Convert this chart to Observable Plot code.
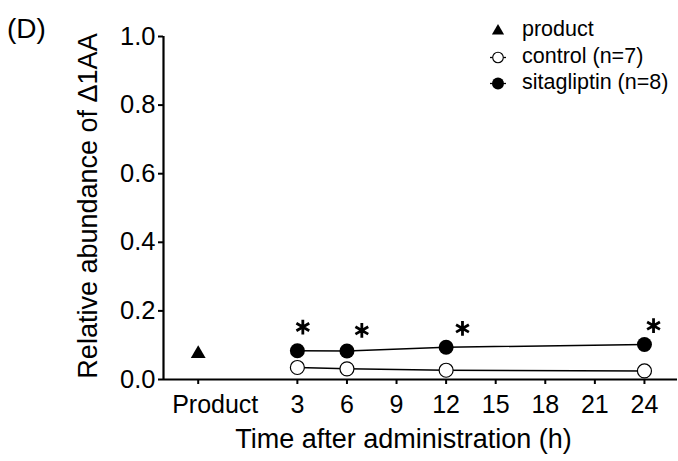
<!DOCTYPE html>
<html>
<head>
<meta charset="utf-8">
<script src="https://cdn.jsdelivr.net/npm/d3@7"></script>
<script src="https://cdn.jsdelivr.net/npm/@observablehq/plot@0.6"></script>
<style>
  html, body { margin: 0; padding: 0; background: #fff; }
  #wrap { position: relative; width: 678px; height: 461px; font-family: "Liberation Sans", Arial, sans-serif; color: #000; }
  #panel { position: absolute; left: 7px; top: 13px; font-size: 28px; line-height: 32px; }
  #legend { position: absolute; left: 486px; top: 16px; font-size: 21.5px; }
  .row { position: relative; height: 26.5px; line-height: 26.5px; white-space: nowrap; }
  .row svg { position: absolute; left: 0; top: 0; }
  .row span { position: absolute; left: 36px; top: 0; }
</style>
</head>
<body>
<div id="wrap">
  <div id="chart"></div>
  <div id="panel">(D)</div>
  <div id="legend"></div>
</div>
<script>
// ---- data ----
const times = [3, 6, 12, 24];
const controlValues = [0.035, 0.031, 0.027, 0.025];
const sitagliptinValues = [0.084, 0.083, 0.094, 0.102];
const productTimes = [-3];
const productValues = [0.075];
const starTimes = [3.33, 6.9, 12.99, 24.55];
const starValues = [0.153, 0.143, 0.149, 0.157];
const xTicks = [-3, 3, 6, 9, 12, 15, 18, 21, 24];
const xTickLabels = ["Product", "3", "6", "9", "12", "15", "18", "21", "24"];
const yTicks = [0, 0.2, 0.4, 0.6, 0.8, 1.0];
const seriesNames = ["product", "control (n=7)", "sitagliptin (n=8)"];
const xTitle = "Time after administration (h)";
const yTitle = "Relative abundance of Δ1AA";

const control = times.map((t, i) => ({t, v: controlValues[i]}));
const sitagliptin = times.map((t, i) => ({t, v: sitagliptinValues[i]}));
const product = productTimes.map((t, i) => ({t, v: productValues[i]}));
const stars = starTimes.map((t, i) => ({t, v: starValues[i]}));
const labelOf = d => xTickLabels[xTicks.indexOf(d)];

const chart = Plot.plot({
  width: 678,
  height: 461,
  marginLeft: 163,
  marginRight: 1,
  marginTop: 36,
  marginBottom: 82,
  style: {fontFamily: "Liberation Sans, Arial, sans-serif", fontSize: "25px", color: "#000", background: "transparent"},
  x: {domain: [-5.1, 26]},
  y: {domain: [0, 1]},
  marks: [
    // tick marks + numeric tick labels
    Plot.axisX({ticks: xTicks, tickFormat: d => (d === xTicks[0] ? "" : labelOf(d)), tickSize: 5, tickPadding: 11, strokeWidth: 2, label: null, fontSize: 25}),
    // the "Product" label sits right of its tick in the reference
    Plot.axisX({ticks: [xTicks[0]], tickFormat: labelOf, tickSize: 0, tickPadding: 16, dx: 17, label: null, fontSize: 25}),
    Plot.axisY({ticks: yTicks, tickFormat: d3.format(".1f"), tickSize: 5, tickPadding: 3, strokeWidth: 2, label: null, fontSize: 25.5}),
    Plot.ruleY([0], {stroke: "#000", strokeWidth: 2.2}),
    Plot.ruleX([-5.1], {stroke: "#000", strokeWidth: 2.2}),
    Plot.line(control, {x: "t", y: "v", stroke: "#000", strokeWidth: 1.5}),
    Plot.line(sitagliptin, {x: "t", y: "v", stroke: "#000", strokeWidth: 1.5}),
    Plot.dot(control, {x: "t", y: "v", r: 7, fill: "#fff", stroke: "#000", strokeWidth: 1.2}),
    Plot.dot(sitagliptin, {x: "t", y: "v", r: 7.5, fill: "#000"}),
    Plot.dot(product, {x: "t", y: "v", r: 5.5, symbol: "triangle", fill: "#000"}),
    Plot.dot(stars, {x: "t", y: "v", r: 7, symbol: "asterisk", stroke: "#000", strokeWidth: 2.8}),
    Plot.text([xTitle], {frameAnchor: "bottom", text: d => d, dx: -17, dy: 60, fontSize: 27, lineAnchor: "middle", textAnchor: "middle", fill: "#000"}),
    Plot.text([yTitle], {frameAnchor: "left", text: d => d, rotate: -90, dx: -75, dy: -2, fontSize: 27, lineAnchor: "middle", textAnchor: "middle", fill: "#000"})
  ]
});
document.getElementById("chart").appendChild(chart);

// ---- legend ----
const ns = "http://www.w3.org/2000/svg";
const legend = document.getElementById("legend");
const swatches = [
  s => { const p = document.createElementNS(ns, "path"); p.setAttribute("d", d3.symbol(d3.symbolTriangle, 64)()); p.setAttribute("transform", "translate(12,15)"); p.setAttribute("fill", "#000"); s.appendChild(p); },
  s => { const l = document.createElementNS(ns, "line"); l.setAttribute("x1", 4); l.setAttribute("x2", 20); l.setAttribute("y1", 14.5); l.setAttribute("y2", 14.5); l.setAttribute("stroke", "#000"); l.setAttribute("stroke-width", 1.3); s.appendChild(l);
         const c = document.createElementNS(ns, "circle"); c.setAttribute("cx", 12); c.setAttribute("cy", 14.5); c.setAttribute("r", 5.3); c.setAttribute("fill", "#fff"); c.setAttribute("stroke", "#000"); c.setAttribute("stroke-width", 1.1); s.appendChild(c); },
  s => { const l = document.createElementNS(ns, "line"); l.setAttribute("x1", 4); l.setAttribute("x2", 20); l.setAttribute("y1", 14.5); l.setAttribute("y2", 14.5); l.setAttribute("stroke", "#000"); l.setAttribute("stroke-width", 1.3); s.appendChild(l);
         const c = document.createElementNS(ns, "circle"); c.setAttribute("cx", 12); c.setAttribute("cy", 14.5); c.setAttribute("r", 6); c.setAttribute("fill", "#000"); s.appendChild(c); }
];
seriesNames.forEach((name, i) => {
  const row = document.createElement("div");
  row.className = "row";
  const svg = document.createElementNS(ns, "svg");
  svg.setAttribute("width", 24); svg.setAttribute("height", 27);
  swatches[i](svg);
  row.appendChild(svg);
  const span = document.createElement("span");
  span.textContent = name;
  row.appendChild(span);
  legend.appendChild(row);
});
</script>
</body>
</html>
